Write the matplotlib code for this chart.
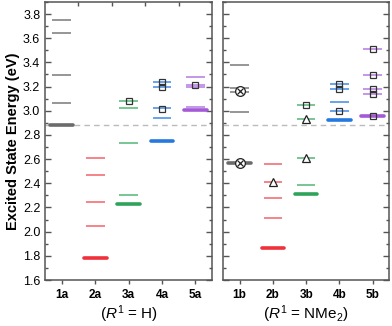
import matplotlib.pyplot as plt
from matplotlib.ticker import MultipleLocator

plt.rcParams['font.family'] = ['Liberation Sans', 'DejaVu Sans']
plt.rcParams['mathtext.fontset'] = 'custom'
plt.rcParams['mathtext.rm'] = 'Liberation Sans'
plt.rcParams['mathtext.it'] = 'Liberation Sans:italic'

# excited state energies (eV), last entry of each list is the lowest (S1-like) state
labels_a = ['1a', '2a', '3a', '4a', '5a']
labels_b = ['1b', '2b', '3b', '4b', '5b']

levels_a = [
    [3.75, 3.643, 3.296, 3.068, 2.886],
    [2.613, 2.465, 2.247, 2.046, 1.781],
    [3.081, 3.026, 2.737, 2.305, 2.231],
    [3.241, 3.197, 3.02, 2.938, 2.752],
    [3.283, 3.21, 3.195, 3.03, 3.008],
]
levels_b = [
    [3.382, 3.192, 3.153, 2.99, 2.569],
    [2.56, 2.407, 2.28, 2.115, 1.861],
    [3.046, 2.93, 2.613, 2.39, 2.313],
    [3.222, 3.183, 3.073, 2.996, 2.921],
    [3.508, 3.293, 3.183, 3.139, 2.955],
]

# markers on top of some levels
squares_a = {2: [3.078], 3: [3.235, 3.195, 3.017], 4: [3.212]}
squares_b = {2: [3.044], 3: [3.222, 3.183, 2.996], 4: [3.508, 3.293, 3.183, 3.139, 2.955]}
triangles_b = {1: [2.407], 2: [2.93, 2.613]}
otimes_b = {0: [3.16, 2.569]}

colors = ['#6b6b6b', '#f0303a', '#2fa35a', '#2478e0', '#a45ad6']
light = ['#8e8e8e', '#f47a7f', '#6cc08a', '#5e9ceb', '#c08de6']
ref_line = 2.885

fig = plt.figure(figsize=(3.92, 3.26), dpi=100)
ax1 = fig.add_axes([0.115, 0.141, 0.426, 0.853])
ax2 = fig.add_axes([0.569, 0.141, 0.424, 0.853])


def draw_panel(ax, labels, levels, squares, triangles, otimes, xlabel):
    for i, lv in enumerate(levels):
        x = i + 1
        for e in lv[:-1]:
            ax.plot([x - 0.28, x + 0.28], [e, e], color=light[i], lw=1.3,
                    solid_capstyle='butt', zorder=2)
        ax.plot([x - 0.34, x + 0.34], [lv[-1], lv[-1]], color=colors[i], lw=2.6,
                solid_capstyle='round', zorder=3)
    for i, ys in squares.items():
        ax.plot([i + 1] * len(ys), ys, ls='none', marker='s', ms=5,
                mfc='none', mec='#333333', mew=0.9, zorder=5)
    for i, ys in triangles.items():
        ax.plot([i + 1] * len(ys), ys, ls='none', marker='^', ms=6,
                mfc='white', mec='#222222', mew=0.9, zorder=5)
    for i, ys in otimes.items():
        ax.plot([i + 1] * len(ys), ys, ls='none', marker='o', ms=7,
                mfc='white', mec='#222222', mew=0.9, zorder=5)
        ax.plot([i + 1] * len(ys), ys, ls='none', marker='x', ms=4.5,
                mec='#222222', mew=0.9, zorder=6)
    ax.axhline(ref_line, color='#bbbbbb', ls=(0, (4, 3)), lw=1.0, zorder=1)
    ax.set_xlim(0.5, 5.5)
    ax.set_ylim(1.6, 3.9)
    ax.set_xticks(range(1, 6))
    ax.set_xticklabels(labels, fontweight='bold', fontsize=8.5)
    ax.yaxis.set_major_locator(MultipleLocator(0.2))
    ax.yaxis.set_minor_locator(MultipleLocator(0.1))
    ax.tick_params(axis='x', direction='out', length=3, width=1, color='#555555')
    ax.tick_params(axis='y', which='both', direction='in', left=True, right=True,
                   width=1, color='#555555', labelsize=9)
    ax.tick_params(axis='y', which='major', length=4)
    ax.tick_params(axis='y', which='minor', length=2.5)
    for s in ax.spines.values():
        s.set_color('#555555')
        s.set_linewidth(1.1)
    ax.set_xlabel(xlabel, fontsize=11, labelpad=2)


draw_panel(ax1, labels_a, levels_a, squares_a, {}, {}, r'($\mathit{R}^1$ = H)')
draw_panel(ax2, labels_b, levels_b, squares_b, triangles_b, otimes_b,
           r'($\mathit{R}^1$ = NMe$_2$)')

ax1.set_ylabel('Excited State Energy (eV)', fontweight='bold', fontsize=10.5, labelpad=2)
ax2.set_yticklabels([])

# small separator ticks on top of the left panel
sec = ax1.secondary_xaxis('top')
sec.set_xticks([1.5, 2.5, 3.5, 4.5])
sec.set_xticklabels([])
sec.tick_params(direction='in', length=3, width=1, color='#555555')
sec.spines['top'].set_visible(False)

fig.savefig('out.png', dpi=100)
